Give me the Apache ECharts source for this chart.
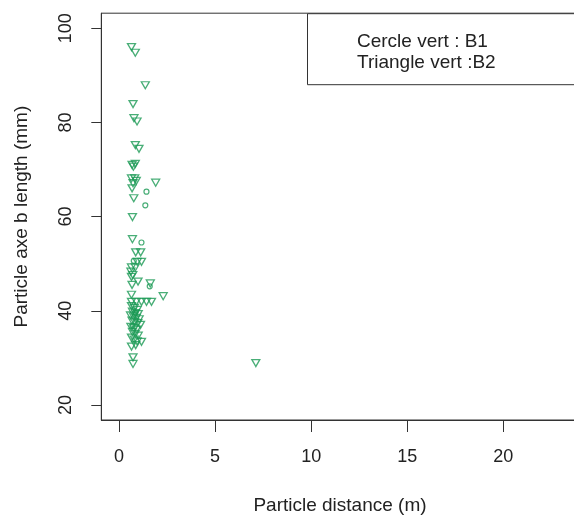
<!DOCTYPE html>
<html>
<head>
<meta charset="utf-8">
<script src="https://cdn.jsdelivr.net/npm/echarts@6/dist/echarts.min.js"></script>
<style>html,body{margin:0;padding:0;background:#fff;}#c{width:574px;height:516px;}</style>
</head>
<body>
<div id="c"></div>
<script>
// Tick labels
var xTicks = [0, 5, 10, 15, 20];
var yTicks = [20, 40, 60, 80, 100];
// Series B1 (green circles): [distance m, axe b mm]
var b1Points = [
  [1.43, 65.3], [1.37, 62.4], [1.17, 54.5], [0.77, 50.6], [1.60, 45.2], [0.85, 39.6], [0.70, 36.8]
];
// Series B2 (green down triangles): [distance m, axe b mm]
var b2Points = [
  [0.65, 96.0], [0.85, 94.8], [1.37, 87.9], [0.73, 83.9], [0.78, 80.9], [0.94, 80.2],
  [0.85, 75.2], [1.04, 74.4], [0.68, 71.0], [0.85, 71.2], [0.75, 70.6],
  [0.65, 68.1], [0.82, 68.1], [0.73, 67.1], [0.68, 66.0], [0.90, 67.6], [1.91, 67.2],
  [0.77, 63.9], [0.70, 59.9], [0.70, 55.2], [0.87, 52.4], [1.13, 52.4],
  [0.95, 50.4], [1.17, 50.4], [0.65, 49.2], [0.85, 49.2], [0.62, 48.3],
  [0.65, 47.2], [0.72, 47.6], [0.99, 46.2], [0.68, 45.5], [1.63, 45.8],
  [0.65, 43.4], [2.30, 43.1],
  [0.65, 41.9], [0.90, 41.9], [1.17, 41.9], [1.43, 41.9], [1.69, 41.9],
  [0.65, 41.0], [0.80, 40.6], [0.95, 40.2], [0.70, 39.8], [0.85, 39.5], [1.00, 39.3],
  [0.60, 39.0], [0.75, 38.8], [0.90, 38.5], [1.05, 38.2], [0.68, 37.9], [0.82, 37.6],
  [0.98, 37.4], [1.12, 37.0], [0.62, 36.6], [0.78, 36.3], [0.92, 36.0], [0.70, 35.5],
  [0.85, 35.1], [1.00, 34.7], [0.65, 34.3], [0.80, 33.9], [0.95, 33.5],
  [0.65, 32.4], [0.87, 32.7], [1.17, 33.4], [0.73, 30.1], [0.73, 28.7],
  [7.12, 28.9]
];
var legendLines = ['Cercle vert : B1', 'Triangle vert :B2'];
var xTitle = 'Particle distance (m)';
var yTitle = 'Particle axe b length (mm)';

var green = '#1b9a55';
var ink = '#222';
var font = '"Liberation Sans", Arial, sans-serif';

var chart = echarts.init(document.getElementById('c'), null, {renderer: 'canvas'});
chart.setOption({
  animation: false,
  backgroundColor: '#fff',
  grid: {
    left: 101.3, top: 13.2, width: 477.4, height: 406.8,
    outerBoundsMode: 'none', containLabel: false,
    show: true, borderColor: '#333', borderWidth: 1, backgroundColor: 'transparent'
  },
  xAxis: {
    type: 'value', min: -0.92, max: 23.92,
    splitLine: {show: false},
    axisLine: {show: true, onZero: false, lineStyle: {color: '#333', width: 1}},
    axisTick: {show: true, length: 12, inside: false, customValues: xTicks, lineStyle: {color: '#333', width: 1}},
    axisLabel: {show: true, customValues: xTicks, margin: 28, color: ink, fontSize: 18, fontFamily: font},
    name: xTitle, nameLocation: 'middle', nameGap: 76,
    nameTextStyle: {color: ink, fontSize: 19, fontFamily: font}
  },
  yAxis: {
    type: 'value', min: 16.8, max: 103.2,
    splitLine: {show: false},
    axisLine: {show: true, onZero: false, lineStyle: {color: '#333', width: 1}},
    axisTick: {show: true, length: 10, inside: false, customValues: yTicks, lineStyle: {color: '#333', width: 1}},
    axisLabel: {show: true, customValues: yTicks, rotate: 90, margin: 26, color: ink, fontSize: 18, fontFamily: font},
    name: yTitle, nameLocation: 'middle', nameGap: 70, nameRotate: 90,
    nameTextStyle: {color: ink, fontSize: 19, fontFamily: font}
  },
  series: [
    {
      name: 'B1', type: 'scatter', data: b1Points,
      symbol: 'circle', symbolSize: 5,
      itemStyle: {color: 'rgba(0,0,0,0)', borderColor: green, borderWidth: 1.2},
      emphasis: {disabled: true}, z: 3
    },
    {
      name: 'B2', type: 'scatter', data: b2Points,
      symbol: 'triangle', symbolSize: [8, 7], symbolRotate: 180,
      itemStyle: {color: 'rgba(0,0,0,0)', borderColor: green, borderWidth: 1.3},
      emphasis: {disabled: true}, z: 3
    }
  ],
  graphic: [
    {
      type: 'rect', left: 307, top: 13.2, z: 10,
      shape: {width: 300, height: 71},
      style: {fill: '#fff', stroke: '#333', lineWidth: 1}
    },
    {
      type: 'text', left: 357, top: 32, z: 11,
      style: {text: legendLines[0], fill: ink, fontSize: 19, fontFamily: font}
    },
    {
      type: 'text', left: 357, top: 53, z: 11,
      style: {text: legendLines[1], fill: ink, fontSize: 19, fontFamily: font}
    }
  ]
});
</script>
</body>
</html>
